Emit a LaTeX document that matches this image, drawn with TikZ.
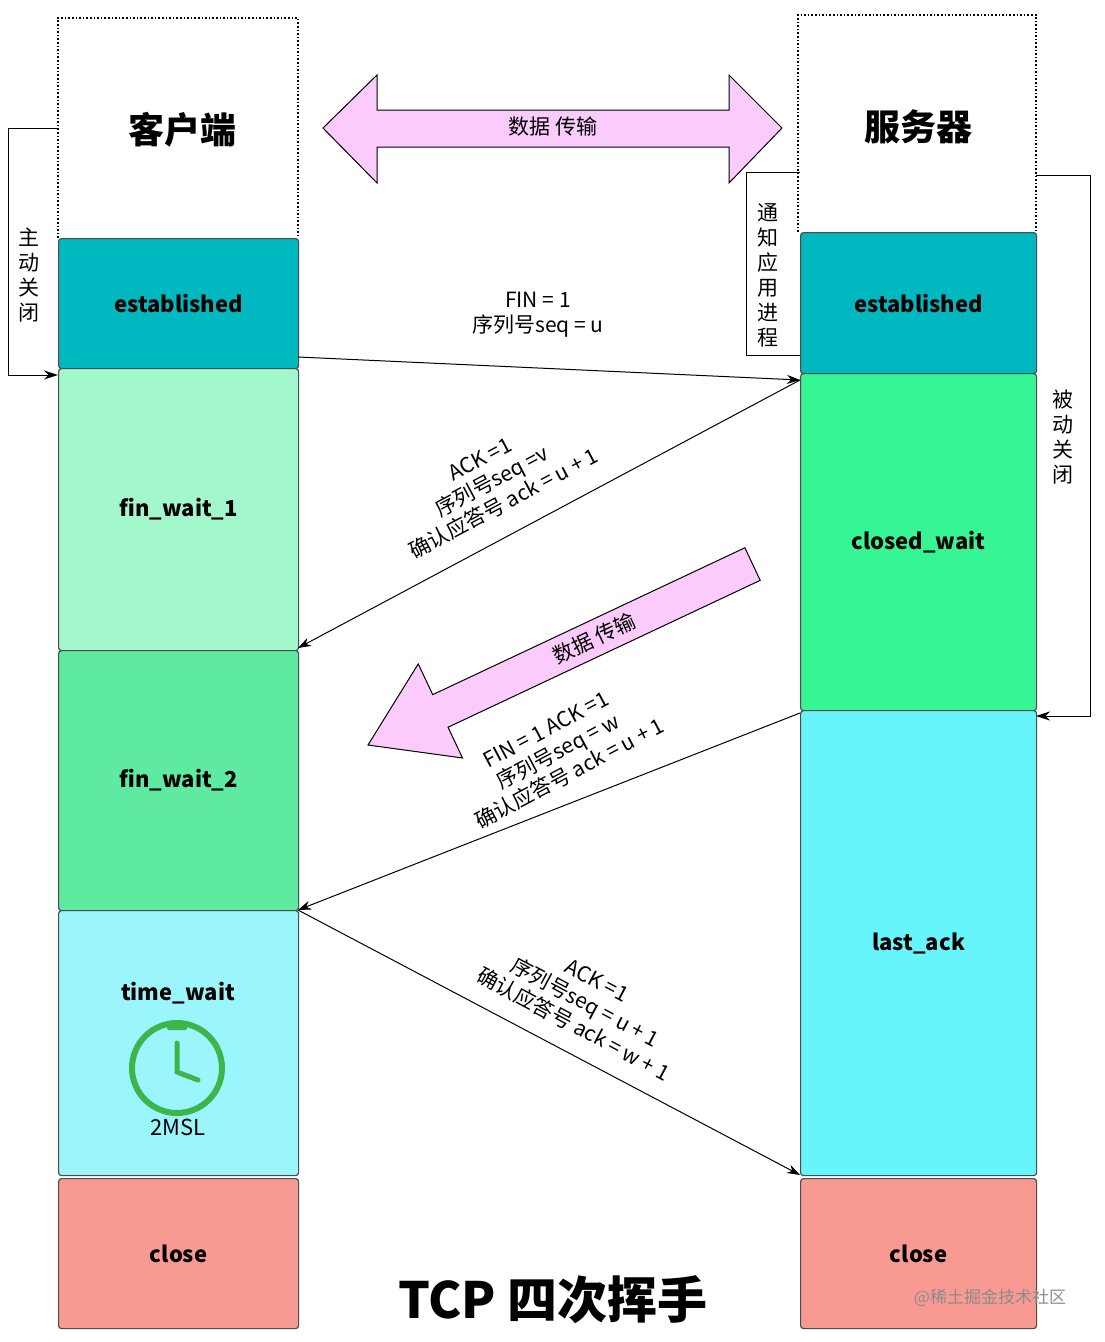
\documentclass[tikz,border=0pt]{standalone}
\usepackage{fontspec}
\setmainfont{Noto Sans CJK SC}
\usetikzlibrary{arrows.meta}
\definecolor{teal1}{HTML}{00B8C0}
\definecolor{fw1}{HTML}{A2F7CC}
\definecolor{fw2}{HTML}{5EEAA0}
\definecolor{tw}{HTML}{9AF6FA}
\definecolor{cls}{HTML}{F99A92}
\definecolor{cw}{HTML}{36F594}
\definecolor{la}{HTML}{66F5FA}
\definecolor{pinkf}{HTML}{FBCBFB}
\definecolor{clk}{HTML}{3DB54A}
\tikzset{
 st/.style={draw=black!70,line width=1.2pt,rounded corners=3pt},
 lbl/.style={font=\fontsize{22}{24}\selectfont\bfseries},
 msg/.style={-{Stealth[length=13pt,width=9pt]},line width=1pt},
 mt/.style={font=\fontsize{21}{25}\selectfont,align=center},
 dot/.style={draw,dotted,line width=1.6pt},
 br/.style={line width=1pt},
 vt/.style={font=\fontsize{21}{25}\selectfont,align=center},
 fat/.style={draw,line width=1pt,fill=pinkf}
}
\begin{document}
\begin{tikzpicture}[x=1pt,y=-1pt]
\useasboundingbox[fill=white] (0,0) rectangle (1104,1342);
\draw[dot] (58,238) -- (58,18) -- (298,18) -- (298,238);
\draw[dot] (798,232) -- (798,15) -- (1036,15) -- (1036,232);
\node[font=\fontsize{36}{38}\selectfont\bfseries] (ch) at (182,130) {客户端};
\node[font=\fontsize{36}{38}\selectfont\bfseries] (sh) at (918,127) {服务器};
\node[st,fill=teal1,minimum width=240pt,minimum height=130pt,anchor=north west] (le) at (58,238) {};
\node[lbl] at (le) {established};
\node[st,fill=fw1,minimum width=240pt,minimum height=282pt,anchor=north west] (lf1) at (58,368) {};
\node[lbl] at (lf1) {fin\_wait\_1};
\node[st,fill=fw2,minimum width=240pt,minimum height=260pt,anchor=north west] (lf2) at (58,650) {};
\node[lbl] at (lf2) {fin\_wait\_2};
\node[st,fill=tw,minimum width=240pt,minimum height=265pt,anchor=north west] (ltw) at (58,910) {};
\node[lbl] at (178,993) {time\_wait};
\node[st,fill=cls,minimum width=240pt,minimum height=150pt,anchor=north west] (lc) at (58,1178) {};
\node[lbl] at (lc) {close};
\draw[clk,line width=6pt] (177,1068) circle (45);
\fill[clk,rounded corners=2pt] (167,1022) rectangle (187,1030);
\draw[clk,line width=5pt,line cap=round] (177,1043) -- (177,1072) -- (198,1080);
\node[font=\fontsize{22}{24}\selectfont] at (178,1127) {2MSL};
\node[st,fill=teal1,minimum width=236pt,minimum height=141pt,anchor=north west] (re) at (800,232) {};
\node[lbl] at (re) {established};
\node[st,fill=cw,minimum width=236pt,minimum height=337pt,anchor=north west] (rcw) at (800,373) {};
\node[lbl] at (rcw) {closed\_wait};
\node[st,fill=la,minimum width=236pt,minimum height=465pt,anchor=north west] (rla) at (800,710) {};
\node[lbl] at (rla) {last\_ack};
\node[st,fill=cls,minimum width=236pt,minimum height=150pt,anchor=north west] (rc) at (800,1178) {};
\node[lbl] at (rc) {close};
\draw[fat] (323,128) -- (377,75) -- (377,110) -- (729,110) -- (729,75) -- (782,128) -- (729,183) -- (729,147) -- (377,147) -- (377,183) -- cycle;
\node[font=\fontsize{21}{23}\selectfont] at (553,127) {数据 传输};
\begin{scope}[shift={(368,745)},rotate=25.2]
\draw[fat] (0,0) -- (80,-52) -- (80,-18) -- (425,-18) -- (425,18) -- (80,18) -- (80,52) -- cycle;
\node[font=\fontsize{21}{23}\selectfont,rotate=25.2] at (250,0) {数据 传输};
\end{scope}
\coordinate (a1) at (298,357); \coordinate (b1) at (800,380);
\coordinate (b2) at (800,713); \coordinate (a2) at (298,648);
\coordinate (a3) at (298,910); \coordinate (b3) at (800,1175);
\draw[msg] (a1) -- (b1);
\draw[msg] (b1) -- (a2);
\draw[msg] (b2) -- (a3);
\draw[msg] (a3) -- (b3);
\node[mt] at (538,315) {FIN = 1\\序列号seq = u};
\node[mt,rotate=28] at (492,482) {ACK =1\\序列号seq =v\\确认应答号 ack = u + 1};
\node[mt,rotate=28] at (558,752) {FIN = 1 ACK =1\\序列号seq = w\\确认应答号 ack = u + 1};
\node[mt,rotate=-28] at (585,1003) {ACK =1\\序列号seq = u + 1\\确认应答号 ack = w + 1};
\coordinate (lt) at (58,128); \coordinate (lb) at (58,375);
\draw[br,-{Stealth[length=14pt,width=9pt]}] (lt) -- (8,128) -- (8,375) -- (lb);
\node[vt] at (29,275) {主\\动\\关\\闭};
\coordinate (nt) at (800,172); \coordinate (nb) at (800,355);
\draw[br] (nt) -- (746,172) -- (746,355) -- (nb);
\node[vt] at (768,275) {通\\知\\应\\用\\进\\程};
\coordinate (pt) at (1036,175); \coordinate (pb) at (1036,716);
\draw[br,-{Stealth[length=14pt,width=9pt]}] (pt) -- (1090,175) -- (1090,716) -- (pb);
\node[vt] at (1063,437) {被\\动\\关\\闭};
\node[font=\fontsize{50}{54}\selectfont\bfseries] at (553,1300) {TCP 四次挥手};
\node[font=\fontsize{17}{19}\selectfont,text=black!45] at (990,1298) {@稀土掘金技术社区};
\end{tikzpicture}
\end{document}
